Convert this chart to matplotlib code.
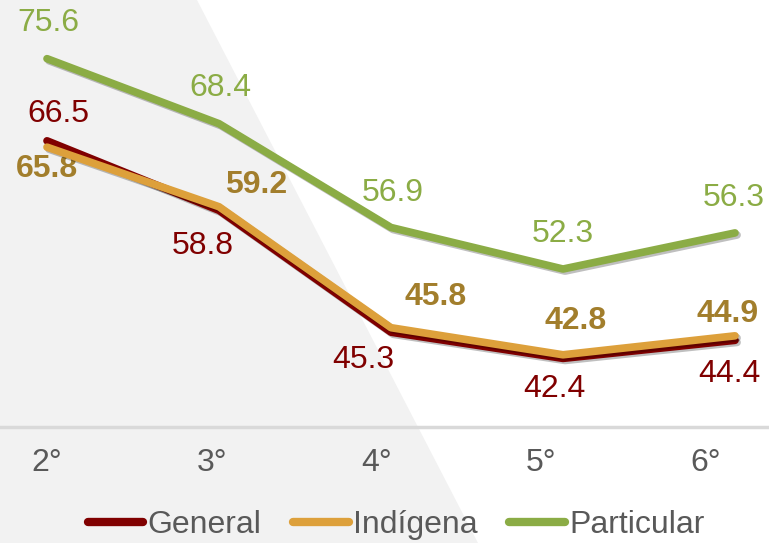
import matplotlib.pyplot as plt
import matplotlib.patheffects as pe
from matplotlib.patches import Polygon
import numpy as np

plt.rcParams['font.family'] = ['Liberation Sans', 'DejaVu Sans']

grades = ["2°", "3°", "4°", "5°", "6°"]
general = [66.5, 58.8, 45.3, 42.4, 44.4]
indigena = [65.8, 59.2, 45.8, 42.8, 44.9]
particular = [75.6, 68.4, 56.9, 52.3, 56.3]

# label offsets in points (dx, dy) relative to each point
off_general = [(8, 19), (-12, -26), (-20, -20), (-6, -22), (-4, -24)]
off_indigena = [(0, -16), (27, 16), (32, 22), (9, 24), (-5, 16)]
off_particular = [(1, 26), (1, 26), (1, 25), (0, 25), (-1, 25)]

fig = plt.figure(figsize=(7.69, 5.43), dpi=100)

# grey slanted backdrop
W, H = 769, 543
bg = Polygon([(0, 1), (197 / W, 1), (478 / W, 0), (0, 0)], closed=True,
             transform=fig.transFigure, facecolor="#F2F2F2", edgecolor="none", zorder=-5)
fig.patches.append(bg)

ax = fig.add_axes([0, 1 - 427 / H, 1, 427 / H])
ax.set_zorder(2)
ax.patch.set_alpha(0)

x = np.arange(len(grades))
shadow = [pe.SimpleLineShadow(offset=(1.5, -1.5), alpha=0.25), pe.Normal()]
ax.plot(x, general, color="#800000", lw=5.5, solid_capstyle="round",
        label="General", path_effects=shadow, zorder=3)
ax.plot(x, indigena, color="#DDA03B", lw=5.5, solid_capstyle="round",
        label="Indígena", path_effects=shadow, zorder=4)
ax.plot(x, particular, color="#8BAC45", lw=5.5, solid_capstyle="round",
        label="Particular", path_effects=shadow, zorder=5)

for xi, v, o in zip(x, general, off_general):
    ax.annotate(f"{v:.1f}", (xi, v), xytext=o, textcoords="offset points",
                ha="center", va="center", fontsize=23, color="#800000")
for xi, v, o in zip(x, indigena, off_indigena):
    ax.annotate(f"{v:.1f}", (xi, v), xytext=o, textcoords="offset points",
                ha="center", va="center", fontsize=23, color="#A27E2C", fontweight="bold")
for xi, v, o in zip(x, particular, off_particular):
    ax.annotate(f"{v:.1f}", (xi, v), xytext=o, textcoords="offset points",
                ha="center", va="center", fontsize=23, color="#8BAC45")

ax.set_xlim(-47 / 172, 4 + 34 / 172)
ax.set_ylim(34.8, 82.1)
ax.set_yticks([])
ax.set_xticks(x * 0.958)
ax.set_xticklabels(grades, fontsize=23, color="#595959")
ax.tick_params(axis="x", length=0, pad=15)
for s in ["top", "left", "right"]:
    ax.spines[s].set_visible(False)
ax.spines["bottom"].set_color("#D9D9D9")
ax.spines["bottom"].set_linewidth(2.5)

leg = fig.legend(loc="center", bbox_to_anchor=(0.515, 1 - 525 / H), ncol=3,
                 frameon=False, fontsize=23, handlelength=1.75, handletextpad=0.12,
                 columnspacing=1.0, labelcolor="#595959")
for line in leg.get_lines():
    line.set_linewidth(6)
    line.set_path_effects([])

fig.savefig("out.png", dpi=100)
